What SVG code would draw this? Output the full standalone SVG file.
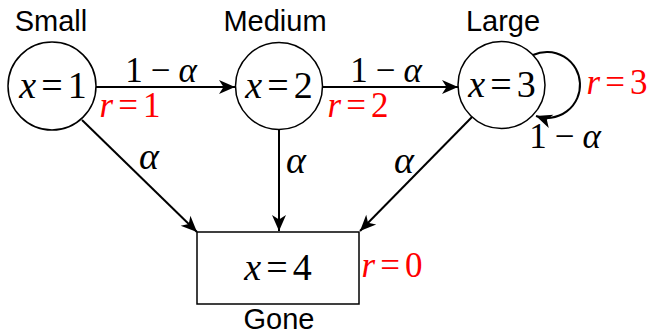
<svg xmlns="http://www.w3.org/2000/svg" width="652" height="334" viewBox="0 0 652 334">
<style>
.node{fill:#fff;stroke:#000;stroke-width:1.5}
.lbl{font-family:"Liberation Sans",Arial,sans-serif;font-size:29px;fill:#000;text-anchor:middle}
.m{font-size:38px;fill:#000;text-anchor:middle}
.e{font-size:35px;fill:#000;text-anchor:middle}
.a{font-size:38px;fill:#000;text-anchor:middle;font-style:italic}
.r{font-size:35px;fill:#ff0000;text-anchor:middle}
.i{font-style:italic}
.edge{fill:none;stroke:#000;stroke-width:2;marker-end:url(#arr)}
</style>
<defs>
<marker id="arr" markerUnits="userSpaceOnUse" viewBox="-17 -8 18 16" refX="0" refY="0" markerWidth="18" markerHeight="16" orient="auto">
<path d="M0,0 L-16,-7 L-11.5,0 L-16,7 Z" fill="#000"/>
</marker>
</defs>
<g id="edges">
<line class="edge" x1="96" y1="87" x2="235" y2="87"/>
<line class="edge" x1="322" y1="87" x2="458" y2="87"/>
<path class="edge" d="M533 55 A33 33 0 1 1 536 116"/>
<line class="edge" x1="82" y1="120" x2="197" y2="232"/>
<line class="edge" x1="279" y1="130" x2="279" y2="231"/>
<line class="edge" x1="472" y1="117" x2="360" y2="231"/>
<g font-family="Liberation Serif">
<text class="e" x="161" y="82">1<tspan dx="8">−</tspan><tspan class="i" dx="8">α</tspan></text>
<text class="e" x="386" y="82">1<tspan dx="8">−</tspan><tspan class="i" dx="8">α</tspan></text>
<text class="e" x="565" y="148">1<tspan dx="8">−</tspan><tspan class="i" dx="8">α</tspan></text>
<text class="a" x="149" y="169">α</text>
<text class="a" x="296" y="173">α</text>
<text class="a" x="404" y="173">α</text>
</g>
</g>
<g id="n1" font-family="Liberation Serif">
<text class="lbl" x="51" y="31">Small</text>
<circle class="node" cx="52" cy="86" r="44"/>
<text class="m" x="53" y="98"><tspan class="i">x</tspan><tspan dx="5">=</tspan><tspan dx="5">1</tspan></text>
<text class="r" x="130" y="117"><tspan class="i">r</tspan><tspan dx="5">=</tspan><tspan dx="5">1</tspan></text>
</g>
<g id="n2" font-family="Liberation Serif">
<text class="lbl" x="275" y="31">Medium</text>
<circle class="node" cx="279" cy="86" r="43.5"/>
<text class="m" x="279" y="98"><tspan class="i">x</tspan><tspan dx="5">=</tspan><tspan dx="5">2</tspan></text>
<text class="r" x="358" y="117"><tspan class="i">r</tspan><tspan dx="5">=</tspan><tspan dx="5">2</tspan></text>
</g>
<g id="n3" font-family="Liberation Serif">
<text class="lbl" x="503" y="31">Large</text>
<circle class="node" cx="501.5" cy="85" r="43.5"/>
<text class="m" x="502" y="97"><tspan class="i">x</tspan><tspan dx="5">=</tspan><tspan dx="5">3</tspan></text>
<text class="r" x="617" y="94"><tspan class="i">r</tspan><tspan dx="5">=</tspan><tspan dx="5">3</tspan></text>
</g>
<g id="n4" font-family="Liberation Serif">
<rect class="node" x="197" y="232" width="162" height="72"/>
<text class="m" x="278" y="280"><tspan class="i">x</tspan><tspan dx="5">=</tspan><tspan dx="5">4</tspan></text>
<text class="r" x="392" y="277"><tspan class="i">r</tspan><tspan dx="5">=</tspan><tspan dx="5">0</tspan></text>
<text class="lbl" x="279" y="329">Gone</text>
</g>
</svg>
